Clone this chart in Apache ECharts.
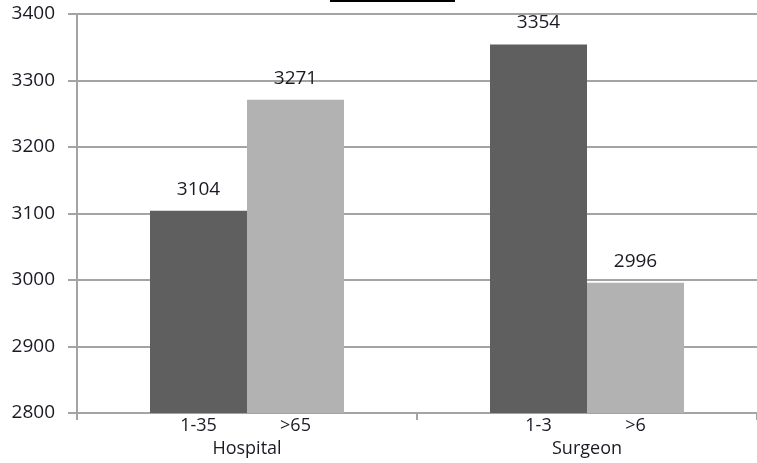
<!DOCTYPE html>
<html>
<head>
<meta charset="utf-8">
<script src="https://cdn.jsdelivr.net/npm/echarts@6/dist/echarts.min.js"></script>
<style>
  html, body { margin: 0; padding: 0; background: #fff; }
  #chart { width: 757px; height: 463px; }
</style>
</head>
<body>
<div id="chart"></div>
<script>
// Group names along the x axis
const groups = ['Hospital', 'Surgeon'];
// Sub-category labels for the first (dark) and second (light) bar of each group
const subLabelsFirst = ['1-35', '1-3'];
const subLabelsSecond = ['>65', '>6'];
// Values for each bar
const valuesFirst = [3104, 3354];
const valuesSecond = [3271, 2996];
// Value axis range
const yMin = 2800;
const yMax = 3400;
const yStep = 100;

const FONT = '"Open Sans", sans-serif';
const TEXT = '#1a1a24';
const GRID = '#a4a4a4';

const chart = echarts.init(document.getElementById('chart'), null, { renderer: 'canvas' });

const valueLabel = {
  show: true,
  position: 'top',
  distance: 12,
  color: TEXT,
  fontFamily: FONT,
  fontSize: 19
};

chart.setOption({
  animation: false,
  backgroundColor: '#ffffff',
  grid: { left: 77, right: 0, top: 14, bottom: 50 },
  graphic: [
    { type: 'rect', shape: { x: 330, y: 0, width: 125, height: 2 }, style: { fill: '#000' } }
  ],
  xAxis: {
    type: 'category',
    data: groups,
    boundaryGap: true,
    axisLine: { show: true, lineStyle: { color: GRID, width: 2 } },
    axisTick: { show: true, length: 7, alignWithLabel: false, lineStyle: { color: GRID, width: 2 } },
    axisLabel: {
      margin: 2,
      interval: 0,
      fontFamily: FONT,
      color: TEXT,
      formatter: function (v, i) {
        return '{s|' + subLabelsFirst[i] + '}{s|' + subLabelsSecond[i] + '}\n{g|' + v + '}';
      },
      rich: {
        s: { width: 97, align: 'center', fontSize: 18, lineHeight: 22, fontFamily: FONT, color: TEXT },
        g: { align: 'center', fontSize: 18, lineHeight: 24, fontFamily: FONT, color: TEXT }
      }
    }
  },
  yAxis: {
    type: 'value',
    min: yMin,
    max: yMax,
    interval: yStep,
    axisLine: { show: true, lineStyle: { color: GRID, width: 2 } },
    axisTick: { show: true, length: 9, lineStyle: { color: GRID, width: 2 } },
    axisLabel: {
      margin: 22,
      color: TEXT,
      fontFamily: FONT,
      fontSize: 19,
      formatter: function (v) { return String(v); }
    },
    splitLine: { show: true, lineStyle: { color: GRID, width: 2 } }
  },
  series: [
    {
      type: 'bar',
      data: valuesFirst,
      barWidth: 97,
      barGap: '0%',
      itemStyle: { color: '#5f5f5f' },
      label: valueLabel
    },
    {
      type: 'bar',
      data: valuesSecond,
      barWidth: 97,
      barGap: '0%',
      itemStyle: { color: '#b2b2b2' },
      label: valueLabel
    }
  ]
});
</script>
</body>
</html>
